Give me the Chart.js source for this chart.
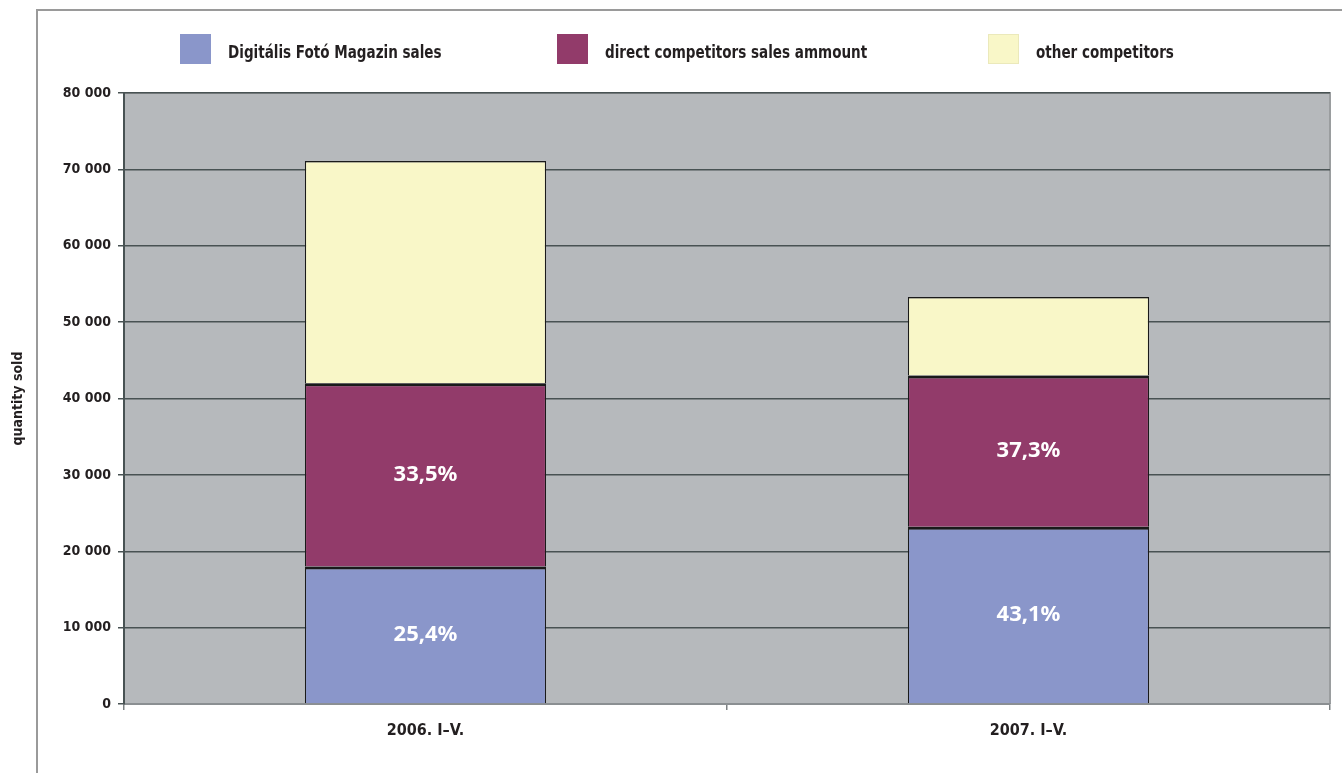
<!DOCTYPE html>
<html><head><meta charset="utf-8">
<script src="https://cdn.jsdelivr.net/npm/chart.js@4/dist/chart.umd.min.js"></script>
<style>
html,body{margin:0;padding:0;background:#fff;}
#wrap{position:relative;width:1342px;height:773px;overflow:hidden;}
#frame{position:absolute;left:36px;top:9px;width:1320px;height:800px;border-top:2px solid #9a9a9a;border-left:2px solid #9a9a9a;box-sizing:border-box;}
canvas{position:absolute;left:0;top:0;}
.leg{position:absolute;top:34px;height:30px;font-family:"Liberation Sans Narrow","DejaVu Sans Condensed",sans-serif;font-weight:bold;font-size:17px;color:#231f20;white-space:nowrap;}
.leg span.sw{position:absolute;left:0;top:0;width:31px;height:30px;box-sizing:border-box;}
.leg span.tx{position:absolute;left:48px;top:10px;transform:scaleX(0.885);transform-origin:left center;line-height:17px;}
</style></head>
<body><div id="wrap"><div id="frame"></div><canvas id="c" width="1342" height="773"></canvas>
<div id="legend"></div></div>
<script>
const categories = ["2006. I\u2013V.", "2007. I\u2013V."];
const seriesNames = ["Digitális Fotó Magazin sales", "direct competitors sales ammount", "other competitors"];
const ownSales = [18000, 23200];
const directCompetitors = [24000, 19800];
const otherCompetitors = [29100, 10300];
const ownPctLabels = ["25,4%", "43,1%"];
const directPctLabels = ["33,5%", "37,3%"];
const yTickValues = [0, 10000, 20000, 30000, 40000, 50000, 60000, 70000, 80000];

const colors = ["#8a96ca", "#923b6a", "#f9f7c8"];
const legendX = [180, 557, 988];

const legend = document.getElementById('legend');
seriesNames.forEach((n, i) => {
  const d = document.createElement('div');
  d.className = 'leg';
  d.style.left = legendX[i] + 'px';
  d.innerHTML = '<span class="sw" style="background:' + colors[i] + (i === 2 ? ';border:1px solid #ebe9bb' : '') + '"></span><span class="tx">' + n + '</span>';
  legend.appendChild(d);
});

const fmt = v => v === 0 ? '0' : String(v).replace(/\B(?=(\d{3})+(?!\d))/g, ' ');
const condFont = '"Liberation Sans Narrow","DejaVu Sans Condensed",sans-serif';

const bgPlugin = {
  id: 'bg',
  beforeDraw(chart) {
    const {ctx, chartArea: a} = chart;
    ctx.save();
    ctx.fillStyle = '#b6b9bc';
    ctx.fillRect(a.left, a.top, a.right - a.left, a.bottom - a.top);
    ctx.strokeStyle = '#9a9d9f';
    ctx.lineWidth = 2;
    ctx.beginPath();
    ctx.moveTo(a.left, a.top); ctx.lineTo(a.right, a.top); ctx.lineTo(a.right, a.bottom);
    ctx.stroke();
    ctx.restore();
  }
};

const pctPlugin = {
  id: 'pct',
  afterDatasetsDraw(chart) {
    const {ctx} = chart;
    const lbls = [ownPctLabels, directPctLabels];
    ctx.save();
    ctx.fillStyle = '#ffffff';
    ctx.font = 'bold 22px "Noto Sans", sans-serif';
    ctx.textAlign = 'center';
    ctx.textBaseline = 'middle';
    lbls.forEach((arr, di) => {
      chart.getDatasetMeta(di).data.forEach((bar, i) => {
        const y = (bar.y + bar.base) / 2;
        ctx.fillText(arr[i], bar.x, y);
      });
    });
    ctx.restore();
  }
};

new Chart(document.getElementById('c'), {
  type: 'bar',
  data: {
    labels: categories,
    datasets: [
      {label: seriesNames[0], data: ownSales, backgroundColor: colors[0]},
      {label: seriesNames[1], data: directCompetitors, backgroundColor: colors[1]},
      {label: seriesNames[2], data: otherCompetitors, backgroundColor: colors[2]}
    ].map((d, i) => Object.assign(d, {borderColor: '#1a1a1a', borderWidth: {top: i < 2 ? 3 : 1.5, left: 1.2, right: 1.2, bottom: 0}, borderSkipped: false, barPercentage: 0.4, categoryPercentage: 1}))
  },
  options: {
    responsive: false,
    animation: false,
    layout: {padding: {left: 0, right: 12, top: 93, bottom: 0}},
    plugins: {legend: {display: false}, tooltip: {enabled: false}},
    scales: {
      x: {
        stacked: true,
        afterFit(s) { s.height = 69; },
        grid: {offset: true, drawOnChartArea: false, drawTicks: true, tickLength: 6, color: '#7d8183', lineWidth: 1.5},
        border: {display: true, color: '#8b8f92', width: 2},
        ticks: {color: '#231f20', padding: 11, font: {family: condFont, weight: 'bold', size: 16}}
      },
      y: {
        stacked: true,
        min: 0, max: 80000,
        afterFit(s) { s.width = 124; },
        afterBuildTicks(s) { s.ticks = yTickValues.map(v => ({value: v})); },
        grid: {color: '#485253', lineWidth: 1.5, tickLength: 6, drawTicks: true},
        border: {display: true, color: '#485253', width: 2},
        ticks: {color: '#231f20', padding: 7, callback: v => fmt(v), font: {family: condFont, weight: 'bold', size: 14}},
        title: {display: true, text: 'quantity sold', color: '#231f20', padding: {top: 10, bottom: 0}, font: {family: condFont, weight: 'bold', size: 14}}
      }
    }
  },
  plugins: [bgPlugin, pctPlugin]
});
</script></body></html>
